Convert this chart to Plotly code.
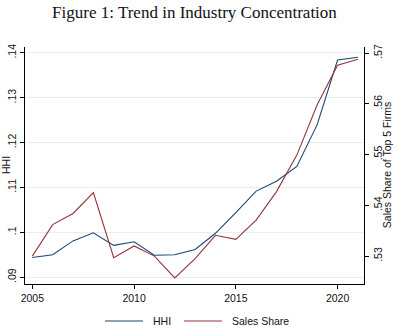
import plotly.graph_objects as go

years = list(range(2005, 2022))
hhi = [0.0944, 0.0950, 0.0981, 0.0999, 0.0971, 0.0979, 0.0949, 0.0950, 0.0962,
       0.0998, 0.1044, 0.1092, 0.1114, 0.1147, 0.1240, 0.1384, 0.1390]
sales_share = [0.5300, 0.5362, 0.5384, 0.5425, 0.5297, 0.5320, 0.5300, 0.5257, 0.5295,
               0.5341, 0.5333, 0.5371, 0.5427, 0.5499, 0.5598, 0.5676, 0.5688]

x_ticks = [2005, 2010, 2015, 2020]
hhi_ticks = [0.09, 0.10, 0.11, 0.12, 0.13, 0.14]
hhi_labels = [".09", ".1", ".11", ".12", ".13", ".14"]
share_ticks = [0.53, 0.54, 0.55, 0.56, 0.57]
share_labels = [".53", ".54", ".55", ".56", ".57"]

BLUE = "#1a476f"
RED = "#90353b"
SANS = "Liberation Sans, Arial, sans-serif"
FS = 10.5

fig = go.Figure()
fig.add_trace(go.Scatter(x=years, y=hhi, mode="lines", name="HHI",
                         line=dict(color=BLUE, width=1.1), yaxis="y"))
fig.add_trace(go.Scatter(x=years, y=sales_share, mode="lines", name="Sales Share",
                         line=dict(color=RED, width=1.1), yaxis="y2"))

# Legend drawn below the plot: sample line plus label for each series
legend_y = -0.156
legend_items = [("HHI", BLUE, 0.236, 0.348), ("Sales Share", RED, 0.469, 0.581)]
for label, color, x0, x1 in legend_items:
    fig.add_shape(type="line", xref="paper", yref="paper", x0=x0, x1=x1,
                  y0=legend_y, y1=legend_y, line=dict(color=color, width=1.1))
    fig.add_annotation(text=label, xref="paper", yref="paper", x=x1 + 0.024, y=legend_y,
                       xanchor="left", yanchor="middle", showarrow=False,
                       font=dict(size=FS))

# Axis titles
fig.add_annotation(text="HHI", xref="paper", yref="paper", x=-0.0575, y=0.5,
                   xanchor="center", yanchor="middle", textangle=-90, showarrow=False,
                   font=dict(size=FS))
fig.add_annotation(text="Sales Share of Top 5 Firms", xref="paper", yref="paper",
                   x=1.067, y=0.5, xanchor="center", yanchor="middle", textangle=-90,
                   showarrow=False, font=dict(size=FS))

fig.update_layout(
    width=404, height=330,
    margin=dict(l=25, r=40, t=47, b=46, autoexpand=False),
    paper_bgcolor="white", plot_bgcolor="white",
    showlegend=False,
    font=dict(family=SANS, size=FS, color="#111111"),
    title=dict(text="Figure 1: Trend in Industry Concentration",
               font=dict(family="Liberation Serif, Times New Roman, serif", size=17, color="#111111"),
               x=0.4814, xanchor="center", y=0.963, yanchor="middle"),
    xaxis=dict(range=[2004.64, 2021.3], tickvals=x_ticks, ticks="outside", ticklen=4,
               tickcolor="black", showline=True, linecolor="black", linewidth=1,
               showgrid=False, zeroline=False, automargin=False,
               tickfont=dict(size=FS)),
    yaxis=dict(range=[0.0885, 0.1413], tickvals=hhi_ticks, ticktext=hhi_labels,
               tickangle=-90, ticks="outside", ticklen=4, tickcolor="black",
               showline=True, linecolor="black", linewidth=1,
               showgrid=True, gridcolor="#e6eef0", gridwidth=1, zeroline=False,
               automargin=False, tickfont=dict(size=FS)),
    yaxis2=dict(range=[0.5245, 0.5712], tickvals=share_ticks, ticktext=share_labels,
                tickangle=-90, ticks="outside", ticklen=4, tickcolor="black",
                showline=True, linecolor="black", linewidth=1,
                overlaying="y", side="right", showgrid=False, zeroline=False,
                automargin=False, tickfont=dict(size=FS)),
)

fig.write_html("out.html")
